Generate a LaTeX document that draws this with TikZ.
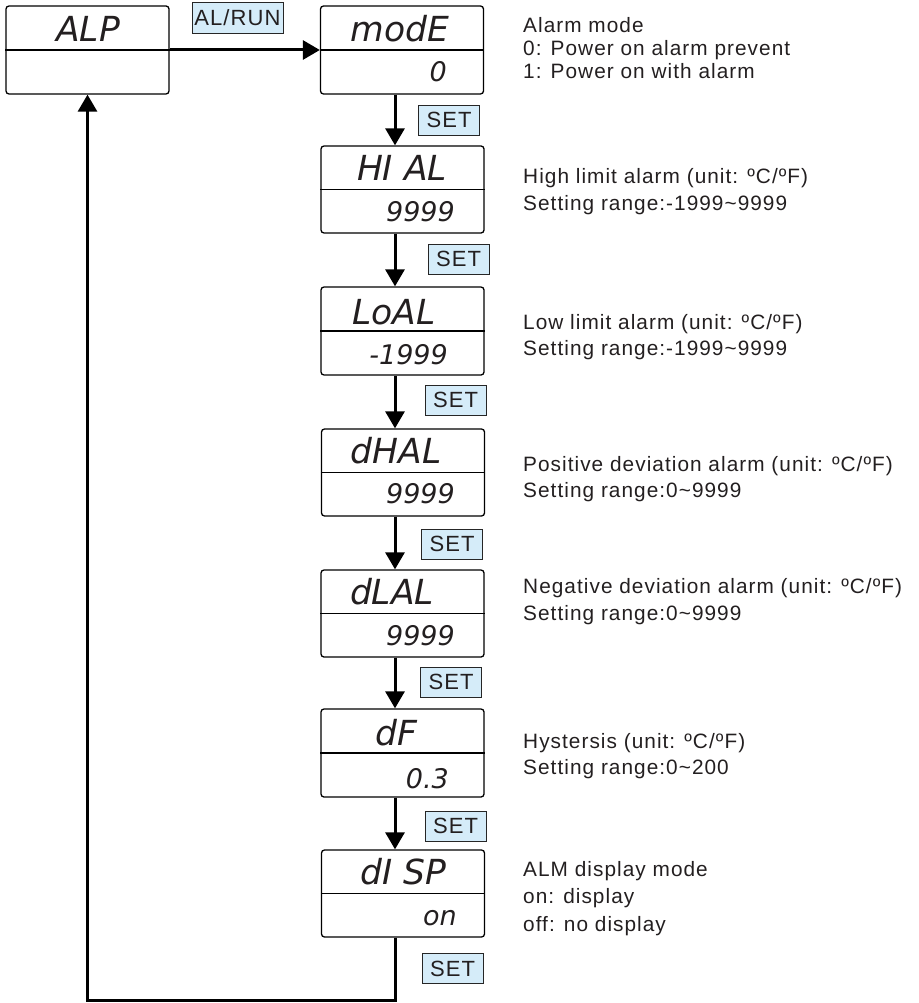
\documentclass[tikz,border=0pt]{standalone}
\usepackage{fontspec}
\setmainfont{Liberation Sans}[LetterSpace=5]
\newfontfamily\segfont{DejaVu Sans}
\usetikzlibrary{arrows.meta}
\definecolor{txt}{HTML}{231F20}
\definecolor{keyfill}{HTML}{D5ECF9}
\begin{document}
\begin{tikzpicture}[x=1pt,y=-1pt,
 dispbox/.style={draw=black, line width=1.3pt, rounded corners=3pt, minimum width=163pt, minimum height=87pt, inner sep=0pt},
 divline/.style={draw=black, line width=1.1pt},
 keybox/.style={draw=black!85, line width=0.9pt, fill=keyfill, minimum width=61pt, minimum height=30pt, inner sep=0pt, font=\fontsize{22}{24}\selectfont, text=txt},
 flow/.style={line width=3pt, -{Triangle[length=17pt,width=19pt]}},
 seglab/.style={anchor=base, font=\segfont\itshape\fontsize{34.5}{36}\selectfont, text=txt, inner sep=0pt},
 segval/.style={anchor=base east, font=\segfont\itshape\fontsize{27}{28}\selectfont, text=txt, inner sep=0pt},
 note/.style={anchor=base west, font=\fontsize{20.8}{24}\selectfont, text=txt, inner sep=0pt}]
\useasboundingbox (0,0) rectangle (918,1003);

% display boxes
\node[dispbox, minimum height=88pt] (alp)  at (87.5,50) {};
\node[dispbox, minimum height=88pt] (mode) at (402,50) {};
\node[dispbox] (hial) at (402.5,189.5) {};
\node[dispbox, minimum height=88pt] (loal) at (402.5,331) {};
\node[dispbox] (dhal) at (403,472.5) {};
\node[dispbox] (dlal) at (402.5,613.5) {};
\node[dispbox, minimum height=88pt] (df)   at (402.5,753) {};
\node[dispbox] (disp) at (403,893.5) {};
\foreach \b in {alp,mode,hial,loal,dhal,dlal,df,disp}
  \draw[divline] (\b.west) -- (\b.east);

% display texts
\node[seglab] (alpT)  at (88,42)  {ALP};
\node[seglab] (modeT) at (400,42) {modE};
\node[segval] (modeV) at (447,82) {0};
\node[seglab] (hialT) at (402,181) {HI AL};
\node[segval] (hialV) at (455,221) {9999};
\node[seglab] (loalT) at (394,324) {LoAL};
\node[segval] (loalV) at (448,364) {-1999};
\node[seglab] (dhalT) at (396,463) {dHAL};
\node[segval] (dhalV) at (455,503) {9999};
\node[seglab] (dlalT) at (392,604) {dLAL};
\node[segval] (dlalV) at (455,645) {9999};
\node[seglab] (dfT)   at (396,745) {dF};
\node[segval] (dfV)   at (449,788) {0.3};
\node[seglab] (dispT) at (403,884) {dI SP};
\node[segval] (dispV) at (457,925) {on};

% key labels
\node[keybox, minimum width=91pt, minimum height=31pt] (alrun) at (237.5,17.5) {AL/RUN};
\node[keybox] (set1) at (449,120) {SET};
\node[keybox] (set2) at (458.5,259) {SET};
\node[keybox] (set3) at (455.5,400) {SET};
\node[keybox] (set4) at (452,544) {SET};
\node[keybox] (set5) at (451,682) {SET};
\node[keybox] (set6) at (455.5,826) {SET};
\node[keybox] (set7) at (452.5,968.5) {SET};

% connectors
\coordinate (ax) at (395,0);
\coordinate (bot) at (200,1000);
\draw[flow] (alp.east) -- (mode.west);
\draw[flow] (mode.south -| ax) -- (hial.north -| ax);
\draw[flow] (hial.south -| ax) -- (loal.north -| ax);
\draw[flow] (loal.south -| ax) -- (dhal.north -| ax);
\draw[flow] (dhal.south -| ax) -- (dlal.north -| ax);
\draw[flow] (dlal.south -| ax) -- (df.north -| ax);
\draw[flow] (df.south -| ax) -- (disp.north -| ax);
\draw[flow] (disp.south -| ax) |- (bot) -| (alp.south);

% notes
\node[note] (n1a) at (523,33) {Alarm mode};
\node[note] (n1b) at (523,56) {0: Power on alarm prevent};
\node[note] (n1c) at (523,79) {1: Power on with alarm};
\node[note] (n2a) at (523,183) {High limit alarm (unit: ºC/ºF)};
\node[note] (n2b) at (523,210) {Setting range:-1999\textasciitilde 9999};
\node[note] (n3a) at (523,329) {Low limit alarm (unit: ºC/ºF)};
\node[note] (n3b) at (523,355) {Setting range:-1999\textasciitilde 9999};
\node[note] (n4a) at (523,471) {Positive deviation alarm (unit: ºC/ºF)};
\node[note] (n4b) at (523,497) {Setting range:0\textasciitilde 9999};
\node[note] (n5a) at (523,593) {Negative deviation alarm (unit: ºC/ºF)};
\node[note] (n5b) at (523,620) {Setting range:0\textasciitilde 9999};
\node[note] (n6a) at (523,748) {Hystersis (unit: ºC/ºF)};
\node[note] (n6b) at (523,774) {Setting range:0\textasciitilde 200};
\node[note] (n7a) at (523,876) {ALM display mode};
\node[note] (n7b) at (523,903) {on: display};
\node[note] (n7c) at (523,931) {off: no display};
\end{tikzpicture}
\end{document}
